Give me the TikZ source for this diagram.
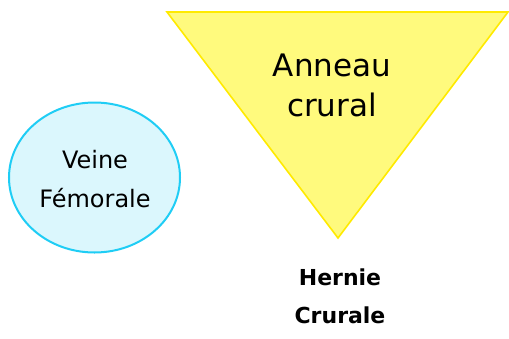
\documentclass[tikz,border=0pt]{standalone}
\usepackage{fontspec}
\setmainfont{DejaVu Sans}
\usetikzlibrary{shapes.geometric,positioning}
\definecolor{ringFill}{HTML}{FFFA7D}
\definecolor{ringEdge}{HTML}{FFEA00}
\definecolor{veinFill}{HTML}{DBF7FD}
\definecolor{veinEdge}{HTML}{1FCDF5}

\begin{document}
\begin{tikzpicture}[x=1pt, y=-1pt]
        \useasboundingbox (0,0) rectangle (509,338);
        \coordinate (ringNW) at (167,12);
        \coordinate (ringNE) at (508,12);
        \coordinate (ringS) at (338,238);
        \filldraw[fill=ringFill, draw=ringEdge, line width=1.6pt, line join=miter] (ringNW) -- (ringNE) -- (ringS) -- cycle;
        \node[font=\fontsize{31}{40}\selectfont, align=center, anchor=base] (ring) at (332,116) {Anneau\\crural};
        \node[ellipse, fill=veinFill, draw=veinEdge, line width=2pt, minimum width=171pt, minimum height=150pt, inner sep=0pt] (vein) at (94.5,177.5) {};
        \node[font=\fontsize{24}{39}\selectfont, align=center, anchor=base] (veinText) at (95,207) {Veine\\Fémorale};
        \node[font=\fontsize{22}{38}\selectfont\bfseries, align=center, anchor=base] (hernia) at (340,323) {Hernie\\Crurale};
      \end{tikzpicture}
\end{document}
